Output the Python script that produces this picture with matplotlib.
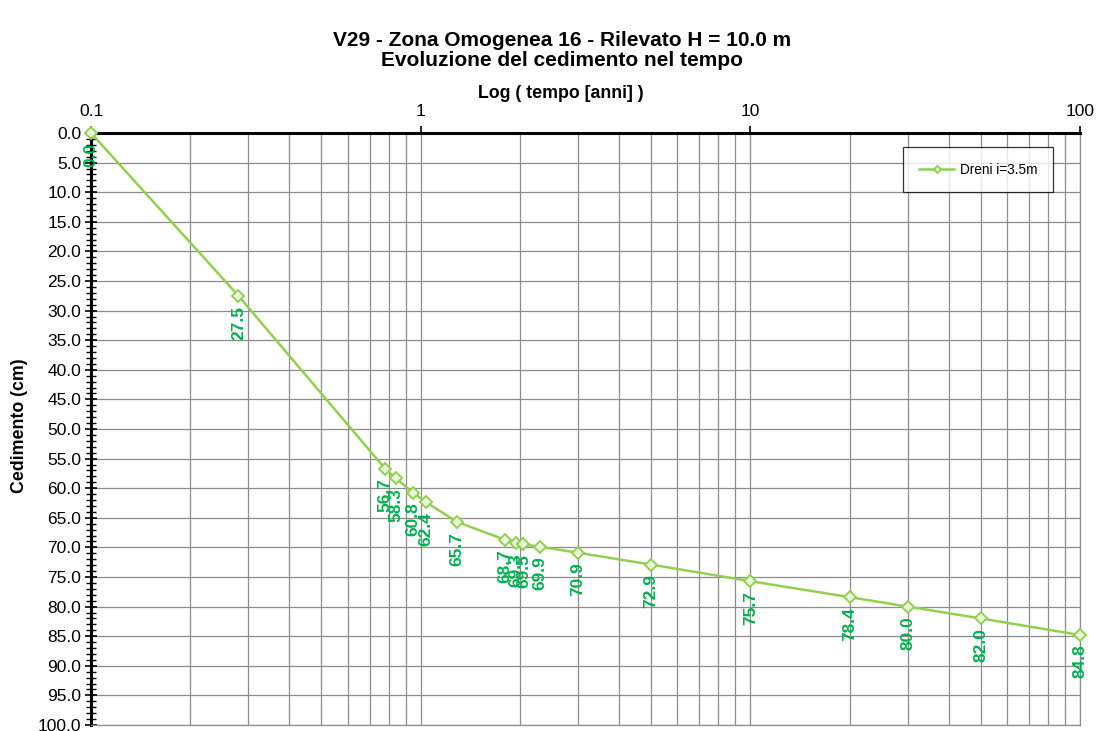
import matplotlib
matplotlib.use("Agg")
import matplotlib.pyplot as plt
from matplotlib.ticker import FixedLocator, MultipleLocator, FuncFormatter, NullFormatter

plt.rcParams['font.family'] = ['Liberation Sans', 'DejaVu Sans']

# Settlement over time (time in years, settlement in cm)
tempo_anni = [0.1, 0.28, 0.78, 0.84, 0.95, 1.04, 1.29, 1.80, 1.95, 2.05, 2.30,
              3.0, 5.0, 10.0, 20.0, 30.0, 50.0, 100.0]
cedimento_cm = [0.0, 27.5, 56.7, 58.3, 60.8, 62.4, 65.7, 68.7, 69.3, 69.5, 69.9,
                70.9, 72.9, 75.7, 78.4, 80.0, 82.0, 84.8]
serie_label = "Dreni i=3.5m"
x_ticks = [0.1, 1, 10, 100]
x_ticklabels = ["0.1", "1", "10", "100"]

title_1 = "V29 - Zona Omogenea 16 - Rilevato H = 10.0 m"
title_2 = "Evoluzione del cedimento nel tempo"
xlabel = "Log ( tempo [anni] )"
ylabel = "Cedimento (cm)"

line_color = "#92D050"
label_color = "#00B050"
grid_color = "#8c8c8c"

fig = plt.figure(figsize=(10.96, 7.31), dpi=100)
ax = fig.add_axes([91 / 1096, 1 - 725 / 731, (1080 - 91) / 1096, (725 - 133) / 731])

ax.set_xscale('log')
ax.set_xlim(0.1, 100)
ax.set_ylim(100, 0)

ax.plot(tempo_anni, cedimento_cm, color=line_color, lw=1.8, marker='D',
        markersize=6, markerfacecolor='#EAF5DC', markeredgecolor=line_color,
        markeredgewidth=1.4, label=serie_label, zorder=3, clip_on=False)

for t, c in zip(tempo_anni, cedimento_cm):
    ax.annotate(f"{c:.1f}", xy=(t, c), xytext=(0, -7), textcoords='offset points',
                ha='center', va='top', rotation=90, color=label_color,
                fontsize=12.5, fontweight='bold', zorder=4, annotation_clip=False)

# Axes: x on top, y inverted
ax.xaxis.tick_top()
ax.xaxis.set_label_position('top')
ax.xaxis.set_major_locator(FixedLocator(x_ticks))
ax.xaxis.set_major_formatter(FuncFormatter(lambda v, p: x_ticklabels[x_ticks.index(v)] if v in x_ticks else ""))
ax.xaxis.set_minor_formatter(NullFormatter())
ax.tick_params(axis='x', which='major', direction='out', length=5, width=1.2,
               labelsize=12.5, pad=5)
ax.tick_params(axis='x', which='minor', length=0)

ax.yaxis.set_major_locator(MultipleLocator(5))
ax.yaxis.set_minor_locator(MultipleLocator(1))
ax.yaxis.set_major_formatter(FuncFormatter(lambda v, p: f"{v:.1f}"))
ax.tick_params(axis='y', which='major', direction='inout', length=8, width=1.2,
               labelsize=12.5, pad=3)
ax.tick_params(axis='y', which='minor', direction='inout', length=7, width=1.0)

ax.grid(True, which='major', axis='y', color=grid_color, lw=0.9)
ax.grid(True, which='both', axis='x', color=grid_color, lw=0.9)

for side in ('top', 'left'):
    ax.spines[side].set_linewidth(2.2)
    ax.spines[side].set_color('black')
for side in ('right', 'bottom'):
    ax.spines[side].set_linewidth(0.9)
    ax.spines[side].set_color(grid_color)

fig.text(561 / 1096, 1 - 93 / 731, xlabel, ha='center', va='center',
         fontsize=12.8, fontweight='bold')
fig.text(20 / 1096, 1 - 426 / 731, ylabel, ha='center', va='center',
         rotation=90, fontsize=12.8, fontweight='bold')
fig.text(562 / 1096, 1 - 40 / 731, title_1, ha='center', va='center',
         fontsize=15, fontweight='bold')
fig.text(562 / 1096, 1 - 60 / 731, title_2, ha='center', va='center',
         fontsize=15, fontweight='bold')

leg = ax.legend(loc='upper right', bbox_to_anchor=(1053 / 1096, 1 - 147 / 731),
                bbox_transform=fig.transFigure, fontsize=9.8, fancybox=False,
                frameon=True, edgecolor='black', borderpad=1.15, handlelength=2.6,
                markerscale=0.6, borderaxespad=0, handletextpad=0.4)
leg.get_frame().set_linewidth(0.9)

fig.savefig("out.png", dpi=100)
